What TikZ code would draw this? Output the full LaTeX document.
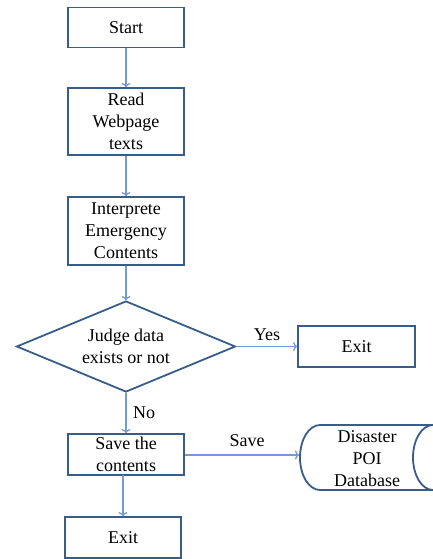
\documentclass[tikz,border=0pt]{standalone}
\usepackage{fontspec}
\setmainfont{Liberation Serif}
\usetikzlibrary{shapes.geometric,arrows.meta}
\definecolor{boxblue}{RGB}{56,93,138}
\definecolor{arrowblue}{RGB}{115,155,210}
\begin{document}
\begin{tikzpicture}[x=1pt,y=-1pt,
  every node/.style={font=\fontsize{18}{22}\selectfont, text=black},
  procbox/.style={draw=boxblue, line width=1.8pt, fill=white, minimum width=116pt, inner sep=0pt, align=center},
  decbox/.style={draw=boxblue, line width=1.8pt, fill=white, diamond, aspect=2.4, minimum width=219pt, minimum height=91pt, inner sep=0pt, align=center},
  conn/.style={draw=arrowblue, line width=1.3pt, -{To[length=4pt,width=9pt]}},
  lbl/.style={inner sep=1pt}]
\useasboundingbox (0,0) rectangle (433,559);
\node[procbox, minimum height=40pt] (start) at (126,27.5) {Start};
\node[procbox, minimum height=67pt] (read) at (126,121.5) {Read\\Webpage\\texts};
\node[procbox, minimum height=68pt] (interp) at (126,231) {Interprete\\Emergency\\Contents};
\node[decbox] (judge) at (126,346.5) {Judge data\\exists or not};
\node[procbox, minimum width=117pt, minimum height=41pt] (exit1) at (356.5,346.5) {Exit};
\node[procbox, minimum height=41pt] (save) at (126,454.5) {Save the\\contents};
\node[procbox, minimum height=41pt] (exit2) at (123,537.5) {Exit};
% database
\draw[draw=boxblue, line width=1.8pt, fill=white]
  (320,425) -- (440,425) -- (440,490) -- (320,490)
  arc[start angle=90, end angle=270, x radius=20, y radius=32.5] -- cycle;
\draw[draw=boxblue, line width=1.8pt, fill=white] (433,457.5) ellipse[x radius=20, y radius=32.5];
\node[align=center, inner sep=0pt] (db) at (367,458.5) {Disaster\\POI\\Database};
\coordinate (dbin) at (299,455);
% connectors
\draw[conn] (start) -- (read);
\draw[conn] (read) -- (interp);
\draw[conn] (interp) -- (judge);
\draw[conn] (judge.east) -- (exit1.west);
\draw[conn] (judge.south) -- (save.north);
\draw[conn] (save.east |- 0,455) -- (dbin);
\draw[conn] (123,475) -- (exit2.north);
\node[lbl] (yes) at (267,335) {Yes};
\node[lbl, anchor=west] (no) at (132,413) {No};
\node[lbl] (savelbl) at (247,441) {Save};
\end{tikzpicture}
\end{document}
